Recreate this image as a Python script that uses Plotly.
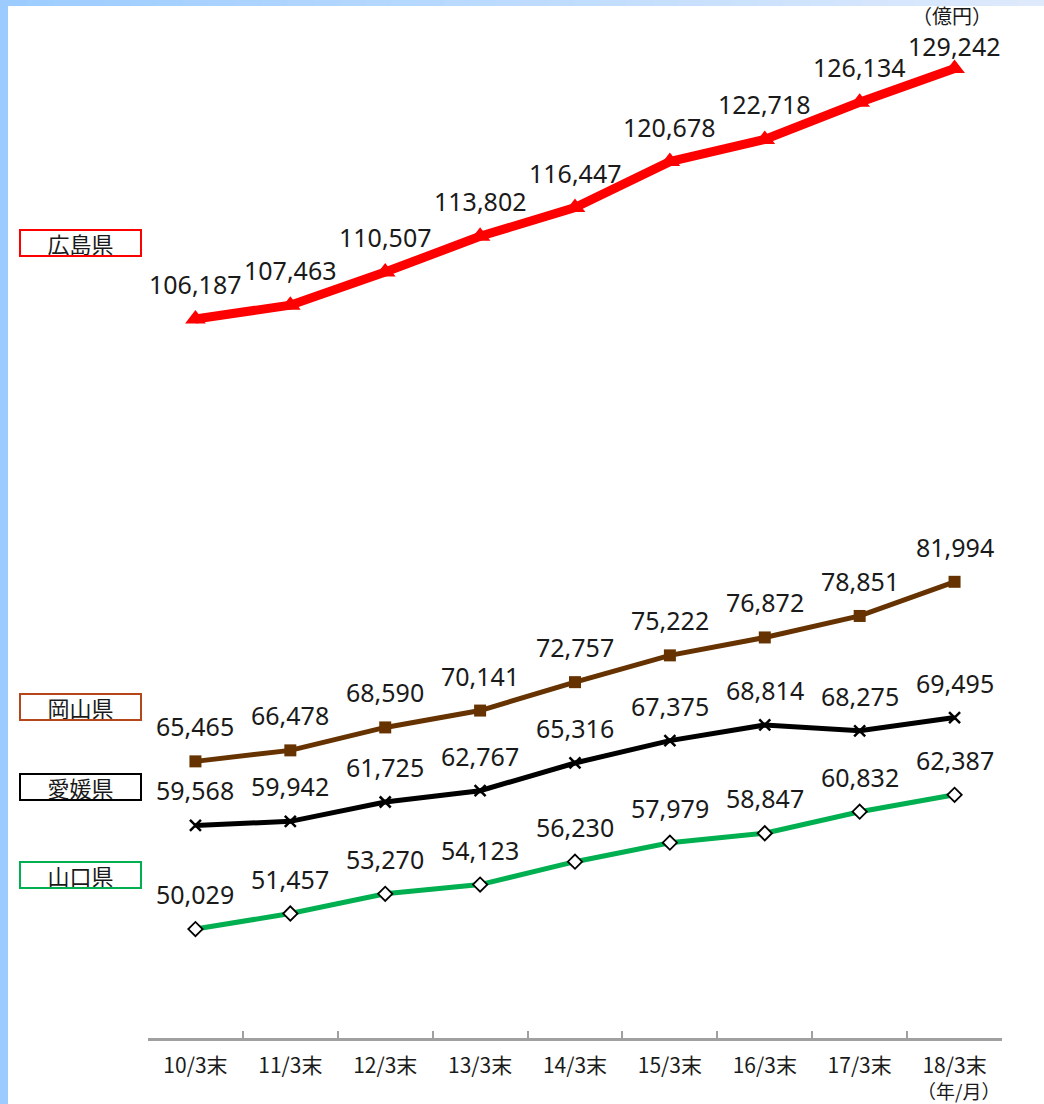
import plotly.graph_objects as go

categories = ["10/3末", "11/3末", "12/3末", "13/3末", "14/3末", "15/3末", "16/3末", "17/3末", "18/3末"]
hiroshima = [106187, 107463, 110507, 113802, 116447, 120678, 122718, 126134, 129242]
okayama = [65465, 66478, 68590, 70141, 72757, 75222, 76872, 78851, 81994]
ehime = [59568, 59942, 61725, 62767, 65316, 67375, 68814, 68275, 69495]
yamaguchi = [50029, 51457, 53270, 54123, 56230, 57979, 58847, 60832, 62387]
series_names = ["広島県", "岡山県", "愛媛県", "山口県"]

W, H = 1044, 1104
ML, MR, MT, MB = 148, 42, 6, 66
PW, PH = W - ML - MR, H - MT - MB

def px(x):
    return (x - ML) / PW

def py(y):
    return (H - MB - y) / PH

FONT = "Noto Sans, Noto Sans CJK JP, sans-serif"
JFONT = "Noto Sans CJK JP, sans-serif"

fig = go.Figure()

styles = [
    (hiroshima, "#ff0000", 9, "triangle-up", 18, "#ff0000", "#ff0000", 0),
    (okayama, "#663300", 5, "square", 12, "#663300", "#663300", 0),
    (ehime, "#000000", 5, "x-thin", 11, "#000000", "#000000", 2.5),
    (yamaguchi, "#00b050", 5, "diamond", 11, "#ffffff", "#000000", 1.8),
]

for si, ((vals, color, lw, sym, ms, mfill, mline, mlw), name) in enumerate(zip(styles, series_names)):
    fig.add_trace(go.Scatter(
        x=categories, y=vals, mode="lines+markers", name=name,
        line=dict(color=color, width=lw),
        marker=dict(symbol=sym, size=ms, color=mfill, line=dict(color=mline, width=mlw)),
        showlegend=False, hoverinfo="skip",
    ))
    for i, (c, v) in enumerate(zip(categories, vals)):
        shift = 23 if (si == 0 and i == len(vals) - 1) else 35
        fig.add_annotation(x=c, y=v, text=f"{v:,}", showarrow=False,
                           yshift=shift, font=dict(family=FONT, size=25, color="#1a1a1a"))

# legend boxes
boxes = [
    ("広島県", "#ff0000", 243),
    ("岡山県", "#b5461a", 707),
    ("愛媛県", "#000000", 787),
    ("山口県", "#00b050", 875),
]
for text, col, yc in boxes:
    fig.add_annotation(xref="paper", yref="paper", x=px(80), y=py(yc),
                       xanchor="center", yanchor="middle",
                       text=text, showarrow=False, width=119, height=24,
                       bordercolor=col, borderwidth=2, borderpad=0, bgcolor="white",
                       font=dict(family=JFONT, size=22, color="#1a1a1a"))

fig.add_annotation(xref="paper", yref="paper", x=px(952), y=py(15), text="（億円）",
                   xanchor="center", yanchor="middle",
                   showarrow=False, font=dict(family=JFONT, size=20, color="#1a1a1a"))
fig.add_annotation(xref="paper", yref="paper", x=px(958), y=py(1090), text="（年/月）",
                   xanchor="center", yanchor="middle",
                   showarrow=False, font=dict(family=JFONT, size=19, color="#1a1a1a"))

# decorative frame strips
shapes = []
shapes.append(dict(type="rect", xref="paper", yref="paper", x0=px(0), x1=px(8), y0=py(H), y1=py(0),
                   fillcolor="#9ccbff", line=dict(width=0), layer="below"))
n = 40
c0, c1 = (156, 204, 255), (222, 234, 252)
for i in range(n):
    t = i / (n - 1)
    c = tuple(round(a + (b - a) * t) for a, b in zip(c0, c1))
    shapes.append(dict(type="rect", xref="paper", yref="paper",
                       x0=px(W * i / n), x1=px(W * (i + 1) / n + 1), y0=py(6), y1=py(0),
                       fillcolor=f"rgb{c}", line=dict(width=0), layer="below"))
fig.update_layout(shapes=shapes)

fig.update_layout(
    width=W, height=H,
    margin=dict(l=ML, r=MR, t=MT, b=MB),
    paper_bgcolor="white", plot_bgcolor="white",
    xaxis=dict(type="category", range=[-0.5, 8.5], tickson="boundaries",
               ticks="inside", ticklen=7, tickwidth=2, tickcolor="#a0a0a0",
               showline=True, linecolor="#a0a0a0", linewidth=3, showgrid=False,
               tickfont=dict(family=JFONT, size=21, color="#1a1a1a"), ticklabelstandoff=7,
               fixedrange=True),
    yaxis=dict(range=[40000, 135000], visible=False, showgrid=False, fixedrange=True),
)

fig.write_html("out.html", config={"displayModeBar": False},
               post_script="document.body.style.margin='0';document.body.style.padding='0';")
